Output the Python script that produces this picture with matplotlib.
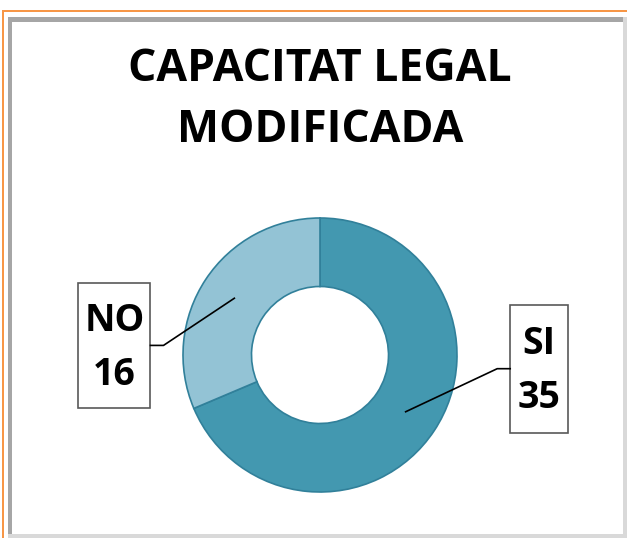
import numpy as np
import matplotlib.pyplot as plt
from matplotlib.patches import Rectangle

# data
labels = ['SI', 'NO']
values = [35, 16]
colors = ['#4398B0', '#93C3D5']
title = 'CAPACITAT LEGAL\nMODIFICADA'

W, H = 627, 538
fig = plt.figure(figsize=(W / 100, H / 100), dpi=100)
fig.patch.set_facecolor('white')


def px(x, y):
    # pixel coords (from top-left) -> figure fraction
    return x / W, 1 - y / H


# frame: orange line + grey shadow
for (x, y, w, h, c) in [
        (2, 10, 625, 2, '#F79646'),
        (2, 10, 2, 528, '#F79646'),
        (8, 17, 619, 5, '#A6A6A6'),
        (8, 17, 4, 521, '#A6A6A6'),
        (623, 17, 4, 521, '#D9D9D9'),
        (8, 534, 619, 4, '#D9D9D9')]:
    x0, y0 = px(x, y + h)
    fig.patches.append(Rectangle((x0, y0), w / W, h / H, transform=fig.transFigure,
                                 facecolor=c, edgecolor='none', zorder=0))

font = 'Open Sans'
fig.text(*px(320, 100), title, ha='center', va='center', fontsize=32,
         fontweight='bold', family=font, linespacing=1.45)

# donut
cx, cy, r = 320, 355, 137
x0, y0 = px(cx - r, cy + r)
ax = fig.add_axes([x0, y0, 2 * r / W, 2 * r / H])
wedges, _ = ax.pie(values, colors=colors, startangle=90, counterclock=False,
                   radius=1, wedgeprops=dict(width=0.5, edgecolor='#31809A',
                                             linewidth=1.2))
ax.set_xlim(-1, 1)
ax.set_ylim(-1, 1)
ax.set_aspect('equal')
ax.axis('off')

# labels with leader lines
boxes = {'SI': (1.60, -0.10, 58, 128, 1), 'NO': (-1.50, 0.07, 72, 125, -1)}
for w, lab, v in zip(wedges, labels, values):
    ang = np.deg2rad((w.theta1 + w.theta2) / 2)
    sx, sy = 0.75 * np.cos(ang), 0.75 * np.sin(ang)
    bx, by, bw, bh, side = boxes[lab]
    edge_x = bx - side * bw / 2 / r
    elbow_x = edge_x - side * 13 / r
    ax.plot([sx, elbow_x, edge_x], [sy, by, by], color='black', lw=1.2,
            clip_on=False)
    ax.add_patch(Rectangle((bx - bw / 2 / r, by - bh / 2 / r), bw / r, bh / r,
                           facecolor='white', edgecolor='#595959', lw=1.2,
                           clip_on=False))
    ax.text(bx, by - 0.02, f'{lab}\n{v}', ha='center', va='center', fontsize=27,
            fontweight='bold', family=font, linespacing=1.55, clip_on=False)

fig.savefig('out.png', dpi=100)
